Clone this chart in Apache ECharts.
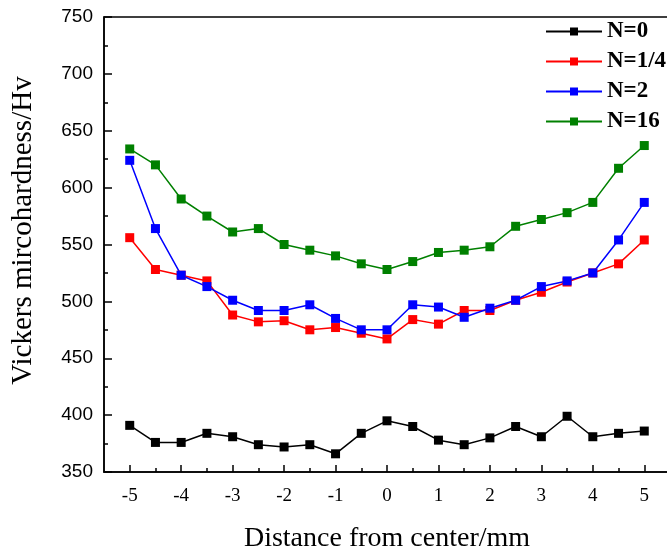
<!DOCTYPE html>
<html>
<head>
<meta charset="utf-8">
<script src="https://cdn.jsdelivr.net/npm/echarts@6/dist/echarts.min.js"></script>
<style>
  html, body { margin: 0; padding: 0; background: #fff; }
  #chart { width: 667px; height: 551px; }
</style>
</head>
<body>
<div id="chart"></div>
<script>
const distance = [-5, -4.5, -4, -3.5, -3, -2.5, -2, -1.5, -1, -0.5, 0, 0.5, 1, 1.5, 2, 2.5, 3, 3.5, 4, 4.5, 5]
const n0 = [391, 376, 376, 384, 381, 374, 372, 374, 366, 384, 395, 390, 378, 374, 380, 390, 381, 399, 381, 384, 386]
const nQuarter = [556, 528, 523, 518, 488, 482, 483, 475, 477, 472, 467, 484, 480, 492, 492, 501, 508, 517, 525, 533, 554]
const n2 = [624, 564, 523, 513, 501, 492, 492, 497, 485, 475, 475, 497, 495, 486, 494, 501, 513, 518, 525, 554, 587]
const n16 = [634, 620, 590, 575, 561, 564, 550, 545, 540, 533, 528, 535, 543, 545, 548, 566, 572, 578, 587, 617, 637]

const seriesNames = ['N=0', 'N=1/4', 'N=2', 'N=16']
const seriesColors = ['#000000', '#ff0000', '#0000ff', '#008000']

const xTicks = [-5, -4, -3, -2, -1, 0, 1, 2, 3, 4, 5]
const xMinorTicks = [-4.5, -3.5, -2.5, -1.5, -0.5, 0.5, 1.5, 2.5, 3.5, 4.5]

const chart = echarts.init(document.getElementById('chart'))

const toPoints = (vals) => distance.map((x, i) => [x, vals[i]])

const option = {
  animation: false,
  backgroundColor: '#fff',
  grid: {
    left: 104, top: 17, width: 566, height: 455,
    outerBoundsMode: 'none', containLabel: false,
    show: true, borderColor: '#000', borderWidth: 1.5
  },
  legend: {
    orient: 'vertical',
    left: 545, top: 20, padding: 0,
    itemWidth: 56, itemHeight: 10, itemGap: 7,
    textStyle: {
      fontFamily: 'Liberation Serif', fontWeight: 'bold',
      fontSize: 23, lineHeight: 23, color: '#000'
    },
    data: seriesNames
  },
  xAxis: [
    {
      type: 'value', min: -5.5, max: 5.5,
      name: 'Distance from center/mm',
      nameLocation: 'middle', nameGap: 53,
      nameTextStyle: { fontFamily: 'Liberation Serif', fontSize: 28, color: '#000' },
      axisLine: { onZero: false, lineStyle: { color: '#000', width: 1.5 } },
      axisTick: { inside: true, length: 7, customValues: xTicks, lineStyle: { color: '#000', width: 1.5 } },
      axisLabel: { customValues: xTicks, margin: 15, fontFamily: 'Liberation Serif', fontSize: 19, color: '#000' },
      splitLine: { show: false }
    },
    {
      type: 'value', min: -5.5, max: 5.5, position: 'bottom',
      axisLine: { show: false, onZero: false },
      axisTick: { inside: true, length: 4, customValues: xMinorTicks, lineStyle: { color: '#000', width: 1.5 } },
      axisLabel: { show: false },
      splitLine: { show: false }
    }
  ],
  yAxis: {
    type: 'value', min: 350, max: 750, interval: 50,
    name: 'Vickers mircohardness/Hv',
    nameLocation: 'middle', nameGap: 66,
    nameTextStyle: { fontFamily: 'Liberation Serif', fontSize: 29, color: '#000', padding: [0, 0, 0, 28] },
    axisLine: { show: true, onZero: false, lineStyle: { color: '#000', width: 1.5 } },
    axisTick: { show: true, inside: true, length: 8, lineStyle: { color: '#000', width: 1.5 } },
    minorTick: { show: true, splitNumber: 2, length: 4, lineStyle: { color: '#000', width: 1.5 } },
    axisLabel: { margin: 11, fontFamily: 'Liberation Sans', fontSize: 19, color: '#000' },
    splitLine: { show: false }
  },
  series: [n0, nQuarter, n2, n16].map((vals, i) => ({
    name: seriesNames[i],
    type: 'line',
    data: toPoints(vals),
    symbol: 'rect',
    symbolSize: 9,
    color: seriesColors[i],
    lineStyle: { width: 1.5, color: seriesColors[i] },
    itemStyle: { color: seriesColors[i] }
  }))
}

chart.setOption(option)
</script>
</body>
</html>
